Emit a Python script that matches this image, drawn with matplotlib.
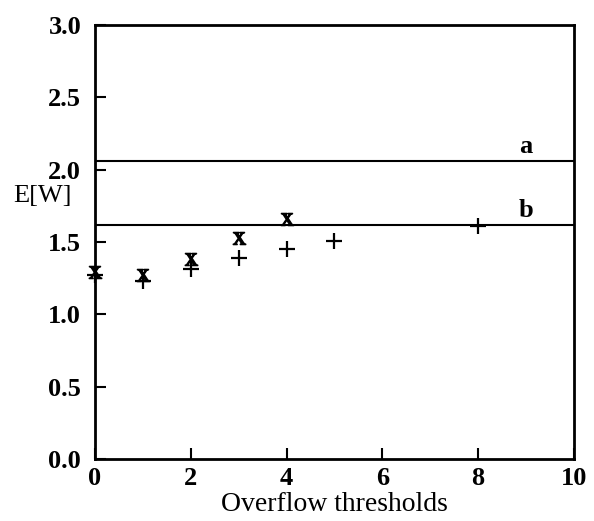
import numpy as np
import matplotlib.pyplot as plt

plt.rcParams['font.family'] = 'Liberation Serif'
plt.rcParams['mathtext.fontset'] = 'stix'

# threshold values and measured E[W]
thr_x = [0, 1, 2, 3, 4]
ew_x = [1.29, 1.27, 1.38, 1.53, 1.66]
thr_plus = [0, 1, 2, 3, 4, 5, 8]
ew_plus = [1.27, 1.23, 1.31, 1.39, 1.455, 1.51, 1.61]
# reference levels
level_a = 2.06
level_b = 1.615

fig = plt.figure(figsize=(5.94, 5.21), dpi=100)
ax = fig.add_axes([0.160, 0.119, 0.806, 0.833])

ax.axhline(level_a, color='black', lw=1.5)
ax.axhline(level_b, color='black', lw=1.5)
ax.text(9.0, level_a + 0.02, 'a', ha='center', va='bottom', fontsize=19, fontweight='bold')
ax.text(9.0, level_b + 0.02, 'b', ha='center', va='bottom', fontsize=19, fontweight='bold')

ax.plot(thr_plus, ew_plus, ls='none', marker='+', ms=11, mew=1.6, color='black', clip_on=False)
ax.plot(thr_x, ew_x, ls='none', marker=r'$\mathrm{x}$', ms=9, color='black', clip_on=False)

ax.set_xlim(0, 10)
ax.set_ylim(0, 3.0)
ax.set_xticks([0, 2, 4, 6, 8, 10])
ax.set_yticks([0.0, 0.5, 1.0, 1.5, 2.0, 2.5, 3.0])
ax.set_yticklabels(['0.0', '0.5', '1.0', '1.5', '2.0', '2.5', '3.0'])
ax.tick_params(direction='in', length=8, width=1.5, labelsize=19,
               top=False, right=False)
ax.tick_params(axis='y', pad=10)
ax.tick_params(axis='x', pad=6)
for lab in ax.get_xticklabels() + ax.get_yticklabels():
    lab.set_fontweight('bold')
for s in ax.spines.values():
    s.set_linewidth(2)

ax.set_xlabel('Overflow thresholds', fontsize=20, labelpad=1)
ax.set_ylabel('E[W]', fontsize=19, rotation=0)
ax.yaxis.set_label_coords(-0.11, 0.58)

fig.savefig('out.png', dpi=100)
